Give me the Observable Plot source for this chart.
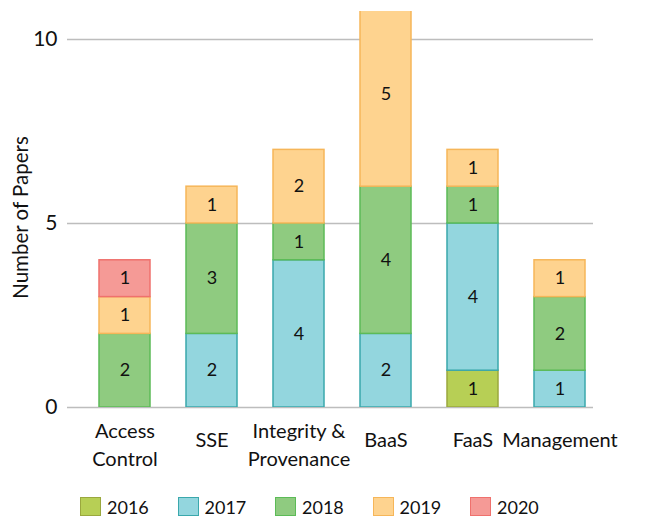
<!DOCTYPE html>
<html>
<head>
<meta charset="utf-8">
<script src="https://cdn.jsdelivr.net/npm/d3@7"></script>
<script src="https://cdn.jsdelivr.net/npm/@observablehq/plot@0.6"></script>
<style>
  body { margin: 0; background: white; font-family: Lato, 'Open Sans', sans-serif; }
  #wrap { width: 650px; position: relative; }
  #legend { display: flex; padding-left: 80px; margin-top: 11px; height: 21px; align-items: center; }
  .item { width: 97.5px; display: flex; align-items: center; flex: none; }
  .sw { width: 19px; height: 17px; border: 1.5px solid; margin-right: 6px; }
  .lab { font-size: 18px; color: #111; }
</style>
</head>
<body>
<div id="wrap"></div>
<script>
const categories = ["Access Control", "SSE", "Integrity & Provenance", "BaaS", "FaaS", "Management"];
const tickLabels = ["Access\nControl", "SSE", "Integrity &\nProvenance", "BaaS", "FaaS", "Management"];
const years = ["2016", "2017", "2018", "2019", "2020"];
const v2016 = [0, 0, 0, 0, 1, 0];
const v2017 = [0, 2, 4, 2, 4, 1];
const v2018 = [2, 3, 1, 4, 1, 2];
const v2019 = [1, 1, 2, 5, 1, 1];
const v2020 = [1, 0, 0, 0, 0, 0];
const yTicks = [0, 5, 10];
const yLabel = "Number of Papers";
const fills = ["#b7cf55", "#93d6de", "#8fcb80", "#fed38f", "#f59a96"];
const strokes = ["#9aa83e", "#3aa8ac", "#5cbb57", "#f6b659", "#ef716d"];

const series = [v2016, v2017, v2018, v2019, v2020];
const data = [];
years.forEach((yr, i) => {
  categories.forEach((c, j) => {
    if (series[i][j] > 0) data.push({cat: c, year: yr, value: series[i][j]});
  });
});
const labelOf = new Map(categories.map((c, i) => [c, tickLabels[i]]));
const multi = categories.filter(c => labelOf.get(c).includes("\n"));
const single = categories.filter(c => !labelOf.get(c).includes("\n"));

const chart = Plot.plot({
  width: 650,
  height: 485,
  marginLeft: 67,
  marginRight: 57,
  marginTop: 11,
  marginBottom: 78,
  style: {fontFamily: "Lato, 'Open Sans', sans-serif", fontSize: "18px", background: "white", color: "#111"},
  x: {type: "band", domain: categories, range: [79, 606], paddingInner: 0.41, paddingOuter: 0.205, axis: null},
  y: {domain: [0, 10.76], axis: null},
  marks: [
    Plot.gridY(yTicks, {stroke: "#bdbdbd", strokeOpacity: 1, strokeWidth: 1.5}),
    Plot.axisY(yTicks, {tickSize: 0, tickPadding: 10, fontSize: 21, label: null}),
    Plot.text([yLabel], {frameAnchor: "left", dx: -46, dy: 8, rotate: -90, textAnchor: "middle", fontSize: 20.5, fill: "#111"}),
    Plot.barY(data, Plot.stackY({
      x: "cat", y: "value", z: "year", order: years,
      fill: d => fills[years.indexOf(d.year)],
      stroke: d => strokes[years.indexOf(d.year)],
      strokeWidth: 1.5, clip: true
    })),
    Plot.text(data, Plot.stackY({
      x: "cat", y: "value", z: "year", order: years,
      text: d => String(d.value), fontSize: 18, fill: "#111"
    })),
    Plot.text(multi, {
      x: d => d, text: d => labelOf.get(d), frameAnchor: "bottom",
      dy: 36, lineAnchor: "middle", lineHeight: 1.4, fontSize: 20, fill: "#111"
    }),
    Plot.text(single, {
      x: d => d, text: d => labelOf.get(d), frameAnchor: "bottom",
      dy: 33, lineAnchor: "middle", fontSize: 20, fill: "#111"
    })
  ]
});

const wrap = document.getElementById("wrap");
wrap.appendChild(chart);
const legend = document.createElement("div");
legend.id = "legend";
years.forEach((yr, i) => {
  const it = document.createElement("div");
  it.className = "item";
  const sw = document.createElement("div");
  sw.className = "sw";
  sw.style.background = fills[i];
  sw.style.borderColor = strokes[i];
  const lb = document.createElement("span");
  lb.className = "lab";
  lb.textContent = yr;
  it.appendChild(sw);
  it.appendChild(lb);
  legend.appendChild(it);
});
wrap.appendChild(legend);
</script>
</body>
</html>
